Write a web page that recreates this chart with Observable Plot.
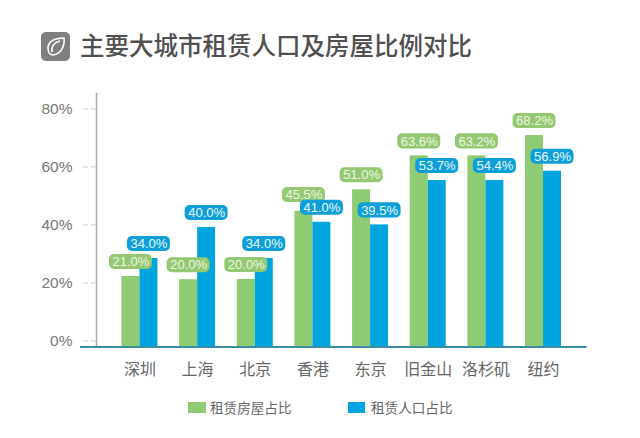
<!DOCTYPE html>
<html><head><meta charset="utf-8">
<script src="https://cdn.jsdelivr.net/npm/d3@7"></script>
<script src="https://cdn.jsdelivr.net/npm/@observablehq/plot@0.6"></script>
<style>
html,body{margin:0;padding:0;background:#fff;}
body{width:640px;height:438px;overflow:hidden;font-family:"Noto Sans CJK SC",sans-serif;}
#head{height:85px;position:relative;}
#head svg{position:absolute;left:41px;top:32px;}
#head h1{position:absolute;left:80px;top:28px;margin:0;font-size:24.5px;line-height:34px;font-weight:500;color:#505050;white-space:nowrap;}
#chart svg{display:block;}
#legend{position:absolute;left:0;top:396px;width:640px;height:22px;font-size:13.6px;line-height:22px;color:#666;}
#legend i{position:absolute;top:5.5px;width:17.5px;height:11.5px;}
#legend span{position:absolute;top:0;white-space:nowrap;}
</style></head>
<body>
<div id="head">
<svg width="29" height="29" viewBox="0 0 29 29"><rect width="29" height="29" rx="5" fill="#7f7f7f"/>
<path d="M7 16C7 10 13 6 23 6C24 14 20 22 12 23C9 23 7 20 7 16Z" fill="none" stroke="#fff" stroke-width="1.6"/>
<path d="M11 20C10 14 14 10 19 9" fill="none" stroke="#fff" stroke-width="1.6"/></svg>
<h1>主要大城市租赁人口及房屋比例对比</h1>
</div>
<div id="chart"></div>
<div id="legend">
<i style="left:188px;background:#8fcb72"></i><span style="left:210px">租赁房屋占比</span>
<i style="left:347.5px;background:#00a5e0"></i><span style="left:371px">租赁人口占比</span>
</div>
<script>
const cities = ["深圳","上海","北京","香港","东京","旧金山","洛杉矶","纽约"];
const housingBars = [22.2,21.1,21.2,44.7,52.1,63.8,63.8,70.8];
const peopleBars  = [28.4,39.1,28.4,40.9,40.0,55.3,55.3,58.5];
const housingLabels = ["21.0%","20.0%","20.0%","45.5%","51.0%","63.6%","63.2%","68.2%"];
const peopleLabels  = ["34.0%","40.0%","34.0%","41.0%","39.5%","53.7%","54.4%","56.9%"];
const housingLift = [0,0,0,0.6,0,0,0,0];
const peopleLift  = [0,0,0,0,0,0,0,0];
const yTicks = [0,20,40,60,80];
const baseline = -2.1;
const yTop = 85.3;

const housing = cities.map((c,i)=>({city:c,v:housingBars[i],at:housingBars[i]+housingLift[i],label:housingLabels[i]}));
const people  = cities.map((c,i)=>({city:c,v:peopleBars[i],at:peopleBars[i]+peopleLift[i],label:peopleLabels[i]}));

const green="#8fcb72", blue="#00a5e0", pillGreen="#95c873", pillBlue="#0e9fd9";
const bar=(data,fill,dx)=>Plot.barY(data,{x:"city",y1:()=>baseline,y2:"v",fill,dx});
// pill is 15px tall on a 2.9px-per-unit scale, centred 14.5px above the bar top
const pill=(data,fill,dx)=>[
  Plot.barY(data,{x:"city",y1:d=>d.at+2.4,y2:d=>d.at+7.6,fill,rx:5,insetLeft:-12.5,insetRight:-12.5,dx}),
  Plot.text(data,{x:"city",y:"at",text:"label",dx,dy:-14.5,fill:fill===pillGreen?"#eef7e4":"#eafaff",fontSize:13,fontFamily:"Liberation Sans, sans-serif"})
];

const plot = Plot.plot({
  width:640,height:295,marginLeft:96,marginRight:53.5,marginTop:8,marginBottom:33.5,
  style:{background:"transparent",fontFamily:"Noto Sans CJK SC, sans-serif",overflow:"visible"},
  x:{domain:cities,paddingInner:0.688,paddingOuter:0.598,align:0.5,round:false},
  y:{domain:[baseline,yTop]},
  marks:[
    Plot.frame({anchor:"left",stroke:"#a9a9a9",strokeWidth:1.5,strokeOpacity:1}),
    bar(housing,green,-9),
    bar(people,blue,9),
    Plot.ruleY([baseline],{stroke:"#3a8ea3",strokeWidth:2,insetLeft:-16}),
    pill(housing,pillGreen,-9),
    pill(people,pillBlue,9),
    Plot.axisY({ticks:yTicks,tickFormat:d=>d+"%",tickSize:16,tickPadding:8,label:null,stroke:"#cfcfcf",strokeDasharray:"5,3",fill:"#777",fontSize:15.5,fontFamily:"Liberation Sans, sans-serif",textStroke:"none"}),
    Plot.axisX({tickSize:0,tickPadding:17,label:null,fill:"#666",fontSize:16})
  ]
});
document.getElementById("chart").appendChild(plot);
</script>
</body></html>
